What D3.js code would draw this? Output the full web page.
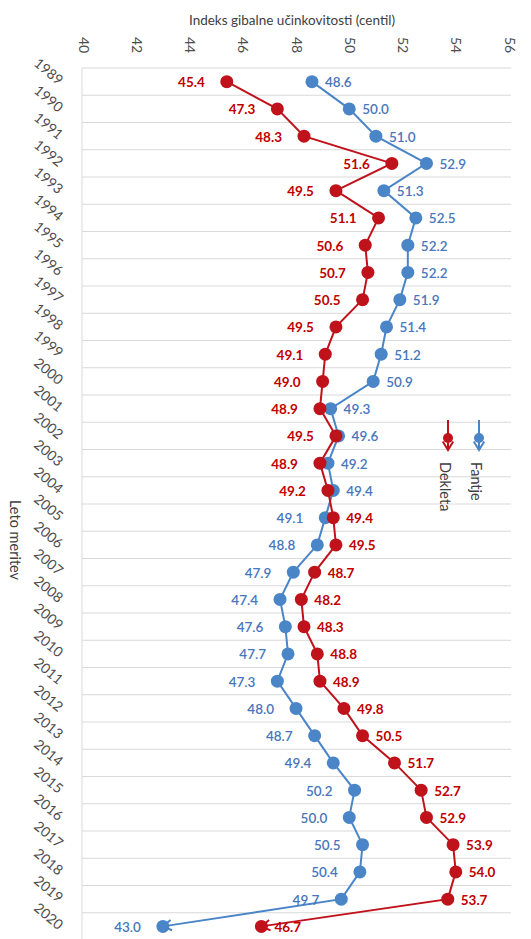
<!DOCTYPE html>
<html>
<head>
<meta charset="utf-8">
<script src="https://cdn.jsdelivr.net/npm/d3@7"></script>
<style>
  body { margin: 0; background: #fff; }
  svg { font-family: Lato, "Open Sans", sans-serif; }
</style>
</head>
<body>
<svg id="chart" width="531" height="939"></svg>
<script>
// podatki
var years = [1989, 1990, 1991, 1992, 1993, 1994, 1995, 1996, 1997, 1998, 1999, 2000,
  2001, 2002, 2003, 2004, 2005, 2006, 2007, 2008, 2009, 2010, 2011, 2012,
  2013, 2014, 2015, 2016, 2017, 2018, 2019, 2020];
var fantje = [48.6, 50.0, 51.0, 52.9, 51.3, 52.5, 52.2, 52.2, 51.9, 51.4, 51.2, 50.9,
  49.3, 49.6, 49.2, 49.4, 49.1, 48.8, 47.9, 47.4, 47.6, 47.7, 47.3, 48.0,
  48.7, 49.4, 50.2, 50.0, 50.5, 50.4, 49.7, 43.0];
var dekleta = [45.4, 47.3, 48.3, 51.6, 49.5, 51.1, 50.6, 50.7, 50.5, 49.5, 49.1, 49.0,
  48.9, 49.5, 48.9, 49.2, 49.4, 49.5, 48.7, 48.2, 48.3, 48.8, 48.9, 49.8,
  50.5, 51.7, 52.7, 52.9, 53.9, 54.0, 53.7, 46.7];
var xTicks = [40, 42, 44, 46, 48, 50, 52, 54, 56];
var seriesNames = ["Fantje", "Dekleta"];

var red = "#C0121B", blue = "#4A85C8";
var redTxt = "#C00000", blueTxt = "#4776BB";

var svg = d3.select("#chart");
var pLeft = 82, pRight = 509, pTop = 68, pBottom = 940;

var x = d3.scaleLinear().domain([40, 56]).range([pLeft + 1, pRight]);
var y = d3.scaleBand().domain(years).range([pTop, pBottom]);
var bw = y.bandwidth();
function cy(yr){ return y(yr) + bw / 2; }

// mreža
var grid = svg.append("g");
years.forEach(function(yr){
  grid.append("line").attr("x1", pLeft).attr("x2", 511).attr("y1", y(yr)).attr("y2", y(yr))
    .attr("stroke", "#d9d9d9").attr("stroke-width", 1);
});
grid.append("line").attr("x1", pLeft).attr("x2", pLeft).attr("y1", pTop).attr("y2", pBottom)
  .attr("stroke", "#d9d9d9").attr("stroke-width", 1);

// zgornja os
var xAxis = svg.append("g").attr("transform", "translate(0," + pTop + ")")
  .call(d3.axisTop(x).tickValues(xTicks).tickSize(0));
xAxis.select(".domain").remove();
xAxis.selectAll("text")
  .attr("transform", "rotate(90)")
  .attr("x", -31).attr("y", 0).attr("dy", "0.35em")
  .attr("text-anchor", "start")
  .attr("font-size", 14).attr("fill", "#4d4d4d")
  .style("font-family", "Lato, sans-serif");

// leva os (leta)
var yAxis = svg.append("g").attr("transform", "translate(" + pLeft + ",0)")
  .call(d3.axisLeft(y).tickSize(0));
yAxis.select(".domain").remove();
yAxis.selectAll("text")
  .attr("x", 0).attr("y", 0).attr("dy", 0)
  .attr("transform", "translate(-24,4) rotate(40)")
  .attr("text-anchor", "end")
  .attr("font-size", 14).attr("fill", "#4d4d4d")
  .style("font-family", "Lato, sans-serif");

// naslovi osi
svg.append("text").attr("x", 292).attr("y", 25).attr("text-anchor", "middle")
  .attr("font-size", 13.5).attr("fill", "#404040")
  .text("Indeks gibalne učinkovitosti (centil)");
svg.append("text").attr("transform", "translate(15,540) rotate(90)")
  .attr("text-anchor", "middle").attr("dy", "0.35em")
  .attr("font-size", 14.5).attr("fill", "#404040")
  .text("Leto meritev");

function arrowHead(g, x1, y1, x2, y2, color){
  var a = Math.atan2(y1 - y2, x1 - x2), len = 10, sp = 0.55;
  var p = "M" + (x2 + len * Math.cos(a - sp)) + "," + (y2 + len * Math.sin(a - sp)) +
    "L" + x2 + "," + y2 +
    "L" + (x2 + len * Math.cos(a + sp)) + "," + (y2 + len * Math.sin(a + sp));
  g.append("path").attr("d", p).attr("fill", "none").attr("stroke", color).attr("stroke-width", 2);
}

var line = d3.line().x(function(d){ return x(d.v); }).y(function(d){ return cy(d.yr); });

function drawSeries(vals, other, color, txtColor, weight){
  var data = years.map(function(yr, i){ return {yr: yr, v: vals[i], o: other[i]}; });
  var g = svg.append("g");
  g.append("path").datum(data).attr("d", line)
    .attr("fill", "none").attr("stroke", color).attr("stroke-width", 2);
  var n = data.length;
  arrowHead(g, x(data[n-2].v), cy(data[n-2].yr), x(data[n-1].v), cy(data[n-1].yr), color);
  g.selectAll("circle").data(data).enter().append("circle")
    .attr("cx", function(d){ return x(d.v); }).attr("cy", function(d){ return cy(d.yr); })
    .attr("r", 6.5).attr("fill", color);
  g.selectAll("text").data(data).enter().append("text")
    .attr("x", function(d){ return d.v < d.o ? x(d.v) - 22 : x(d.v) + 13; })
    .attr("y", function(d){ return cy(d.yr); })
    .attr("dy", "0.4em")
    .attr("text-anchor", function(d){ return d.v < d.o ? "end" : "start"; })
    .attr("font-size", 13.5).attr("font-weight", weight).attr("fill", txtColor)
    .text(function(d){ return d.v.toFixed(1); });
}

drawSeries(fantje, dekleta, blue, blueTxt, 600);
drawSeries(dekleta, fantje, red, redTxt, 700);

// legenda
var legend = [
  {name: seriesNames[1], c: red, lx: 448},
  {name: seriesNames[0], c: blue, lx: 479}
];
legend.forEach(function(l){
  var g = svg.append("g");
  g.append("line").attr("x1", l.lx).attr("x2", l.lx).attr("y1", 420).attr("y2", 449)
    .attr("stroke", l.c).attr("stroke-width", 2);
  g.append("circle").attr("cx", l.lx).attr("cy", 438).attr("r", 5).attr("fill", l.c);
  arrowHead(g, l.lx, 420, l.lx, 450, l.c);
  g.append("text").attr("transform", "translate(" + (l.lx - 3) + ",462) rotate(90)")
    .attr("dy", "0.35em").attr("font-size", 14.5).attr("fill", "#404040")
    .text(l.name);
});
</script>
</body>
</html>
